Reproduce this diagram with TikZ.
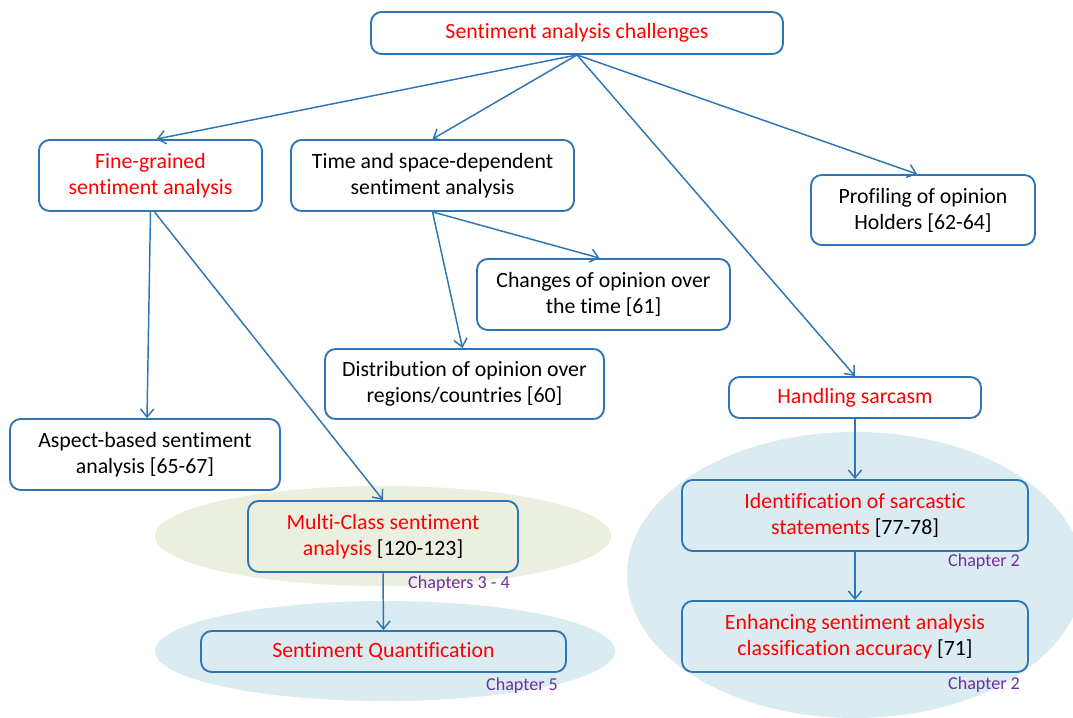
\documentclass[tikz,border=0pt]{standalone}
\usepackage{fontspec}
\setmainfont[Ligatures=NoCommon]{Carlito}
\usetikzlibrary{calc,arrows.meta}
\definecolor{boxblue}{RGB}{46,117,182}
\definecolor{txtred}{RGB}{255,0,0}
\definecolor{chapviolet}{RGB}{112,48,160}
\definecolor{olivefill}{RGB}{235,239,223}
\definecolor{bluefill}{RGB}{219,235,242}
\tikzset{
  box/.style={draw=boxblue, line width=1.4pt, rounded corners=8pt, inner sep=0pt,
    align=center, font=\fontsize{16.35pt}{19.6pt}\selectfont},
  whitebox/.style={box, fill=white},
  link/.style={draw=boxblue, line width=1.1pt, -{Straight Barb[length=6pt,width=10pt,line width=1.1pt]}},
  chap/.style={text=chapviolet, font=\fontsize{13.6pt}{16pt}\selectfont, inner sep=0pt}
}
\begin{document}
\begin{tikzpicture}[x=0.75pt,y=-0.75pt]
\clip (0,0) rectangle (1073,717);
\useasboundingbox (0,0) rectangle (1073,717);
\fill[white] (0,0) rectangle (1073,717);

% shaded groups behind the lower boxes
\fill[olivefill] (383,536) ellipse [x radius=228, y radius=50];
\fill[bluefill] (385,651) ellipse [x radius=230, y radius=50];
\fill[bluefill] (855,575) ellipse [x radius=228, y radius=143];

% boxes
\node[whitebox, minimum width=309pt, minimum height=31.5pt, text=txtred] (root) at (577,33) {Sentiment analysis challenges};
\node[whitebox, minimum width=167.25pt, minimum height=53.25pt, text=txtred] (fine) at (150.5,175.5) {Fine-grained\\sentiment analysis};
\node[whitebox, minimum width=212.25pt, minimum height=53.25pt] (timesp) at (432.5,175.5) {Time and space-dependent\\sentiment analysis};
\node[whitebox, minimum width=168pt, minimum height=52.5pt] (prof) at (923,210) {Profiling of opinion\\Holders [62-64]};
\node[whitebox, minimum width=189.75pt, minimum height=53.25pt] (chg) at (603.5,294.5) {Changes of opinion over\\the time [61]};
\node[whitebox, minimum width=209.25pt, minimum height=52.5pt] (dist) at (464.5,384) {Distribution of opinion over\\regions/countries [60]};
\node[whitebox, minimum width=189pt, minimum height=30.75pt, text=txtred] (sarc) at (855,397.5) {Handling sarcasm};
\node[whitebox, minimum width=202.5pt, minimum height=53.25pt] (aspect) at (145,454.5) {Aspect-based sentiment\\analysis [65-67]};
\node[box, minimum width=202.5pt, minimum height=53.25pt] (multi) at (383,536.5) {\textcolor{txtred}{Multi-Class sentiment}\\\textcolor{txtred}{analysis} [120-123]};
\node[box, minimum width=273.75pt, minimum height=30.75pt, text=txtred] (quant) at (383.5,651.5) {Sentiment Quantification};
\node[box, minimum width=259.5pt, minimum height=53.25pt] (ident) at (855,515.5) {\textcolor{txtred}{Identification of sarcastic}\\\textcolor{txtred}{statements} [77-78]};
\node[box, minimum width=259.5pt, minimum height=53.25pt] (enh) at (855,636.5) {\textcolor{txtred}{Enhancing sentiment analysis}\\\textcolor{txtred}{classification accuracy} [71]};

% chapter tags
\node[chap] (c34) at (459,584) {Chapters 3 - 4};
\node[chap] (c5) at (522,686) {Chapter 5};
\node[chap] (c2a) at (984,562) {Chapter 2};
\node[chap] (c2b) at (984,685) {Chapter 2};

% connectors
\draw[link] (root.south) -- ($(fine.north)+(6,0)$);
\draw[link] (root.south) -- (timesp.north);
\draw[link] (root.south) -- ($(prof.north)+(-6,0)$);
\draw[link] (root.south) -- (sarc.north);
\draw[link] (fine.south) -- ($(aspect.north)+(2,0)$);
\draw[link] ($(fine.south)+(4,0)$) -- (multi.north);
\draw[link] (timesp.south) -- ($(dist.north)+(-2,0)$);
\draw[link] (timesp.south) -- ($(chg.north)+(-4,0)$);
\draw[link] (sarc.south) -- (ident.north);
\draw[link] (ident.south) -- (enh.north);
\draw[link] (multi.south) -- (quant.north);
\end{tikzpicture}
\end{document}
